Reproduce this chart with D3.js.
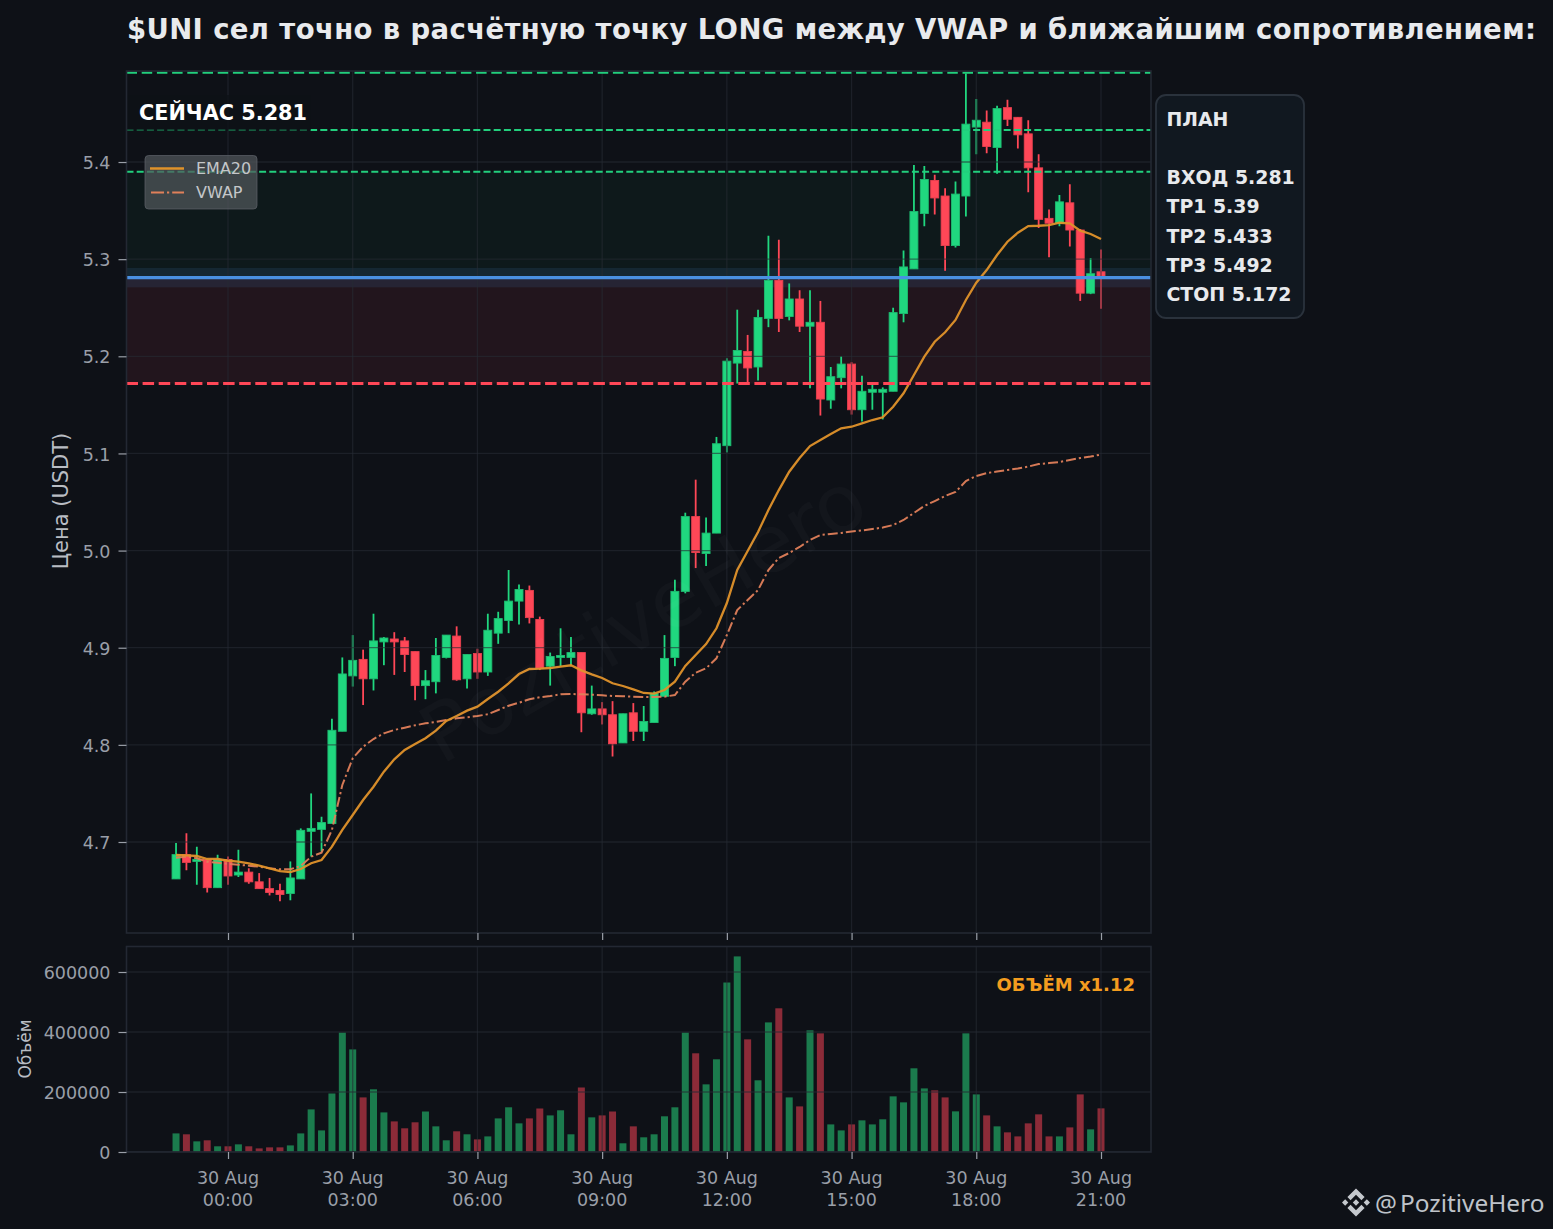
<!DOCTYPE html>
<html><head><meta charset="utf-8">
<script src="https://cdn.jsdelivr.net/npm/d3@7"></script>
<style>
html,body{margin:0;padding:0;background:#0e1117}
svg{display:block;font-family:"DejaVu Sans",sans-serif}
</style></head><body><svg id="c" width="1553" height="1229"></svg>
<script>
const opens=[4.662,4.687,4.680,4.682,4.653,4.682,4.666,4.669,4.659,4.652,4.650,4.647,4.662,4.711,4.713,4.719,4.814,4.871,4.888,4.868,4.906,4.909,4.907,4.896,4.861,4.865,4.890,4.912,4.868,4.894,4.875,4.915,4.928,4.948,4.959,4.929,4.881,4.890,4.890,4.895,4.832,4.837,4.831,4.802,4.833,4.814,4.823,4.850,4.890,4.958,5.035,4.997,5.018,5.108,5.193,5.205,5.189,5.239,5.278,5.241,5.259,5.231,5.235,5.155,5.178,5.192,5.145,5.163,5.163,5.164,5.244,5.290,5.347,5.381,5.365,5.314,5.365,5.436,5.441,5.415,5.456,5.446,5.429,5.394,5.342,5.337,5.358,5.330,5.265,5.287];
const highs=[4.699,4.709,4.695,4.683,4.687,4.685,4.692,4.673,4.668,4.663,4.657,4.680,4.714,4.750,4.726,4.827,4.890,4.913,4.898,4.935,4.911,4.916,4.911,4.896,4.877,4.910,4.913,4.922,4.893,4.899,4.935,4.937,4.980,4.965,4.964,4.932,4.895,4.920,4.911,4.895,4.861,4.844,4.845,4.832,4.843,4.840,4.855,4.913,4.970,5.039,5.073,5.034,5.117,5.198,5.248,5.222,5.248,5.324,5.320,5.275,5.268,5.268,5.257,5.189,5.200,5.194,5.180,5.172,5.168,5.250,5.309,5.397,5.396,5.387,5.373,5.380,5.491,5.465,5.453,5.458,5.464,5.446,5.443,5.408,5.351,5.366,5.377,5.331,5.301,5.310];
const lows=[4.662,4.671,4.656,4.648,4.653,4.656,4.664,4.657,4.652,4.645,4.639,4.640,4.662,4.685,4.690,4.719,4.814,4.860,4.841,4.856,4.882,4.872,4.875,4.846,4.847,4.853,4.889,4.866,4.858,4.868,4.871,4.904,4.915,4.924,4.925,4.877,4.861,4.881,4.881,4.813,4.831,4.821,4.788,4.802,4.804,4.804,4.823,4.850,4.881,4.956,4.982,4.984,5.018,5.101,5.172,5.172,5.175,5.230,5.225,5.237,5.225,5.167,5.139,5.146,5.167,5.140,5.133,5.145,5.135,5.164,5.235,5.290,5.334,5.346,5.288,5.312,5.344,5.408,5.409,5.388,5.437,5.414,5.369,5.332,5.302,5.334,5.313,5.257,5.264,5.249];
const closes=[4.687,4.679,4.682,4.653,4.682,4.665,4.669,4.659,4.652,4.648,4.646,4.663,4.712,4.714,4.720,4.815,4.873,4.887,4.868,4.907,4.910,4.906,4.893,4.861,4.866,4.892,4.913,4.867,4.893,4.875,4.918,4.930,4.948,4.960,4.931,4.879,4.891,4.892,4.895,4.833,4.837,4.831,4.801,4.832,4.814,4.824,4.853,4.889,4.958,5.035,4.998,5.018,5.110,5.195,5.206,5.188,5.240,5.278,5.239,5.259,5.231,5.235,5.156,5.179,5.192,5.145,5.164,5.166,5.166,5.245,5.292,5.349,5.382,5.363,5.314,5.367,5.439,5.443,5.416,5.455,5.444,5.428,5.394,5.341,5.337,5.359,5.330,5.265,5.285,5.281];
const volumes=[62000,59000,35500,39000,19000,19000,25500,19000,12000,15500,15500,22000,62000,142000,72000,195000,398000,342000,182000,209000,132000,102000,79000,99000,135000,85500,39000,69000,59000,42000,52000,112000,149000,95500,112000,145000,122000,139000,59000,215000,115500,122000,135000,29000,85500,49000,59000,119000,149000,398000,329000,225500,309000,565000,652000,375500,239000,432000,479000,182000,152000,405500,395500,92000,72000,92000,105500,92000,109000,185500,165500,279000,212000,205500,182000,135500,395500,192000,122000,85500,65500,52000,95500,125500,52000,52000,82000,192000,75500,145500];
const ema20=[4.6866,4.6863,4.6856,4.6825,4.6825,4.6807,4.6797,4.6781,4.6756,4.6729,4.6701,4.6691,4.6722,4.6781,4.6815,4.6952,4.7124,4.7278,4.7432,4.7569,4.7724,4.7851,4.7947,4.8009,4.8068,4.8146,4.8246,4.8297,4.8352,4.8393,4.8472,4.8547,4.8634,4.8729,4.8781,4.8784,4.8791,4.8805,4.8819,4.8767,4.8726,4.8688,4.8634,4.8606,4.8572,4.8534,4.8527,4.8565,4.8650,4.8812,4.8925,4.9038,4.9200,4.9460,4.9800,4.9996,5.0191,5.0418,5.0623,5.0812,5.0953,5.1076,5.1138,5.1200,5.1259,5.1275,5.1310,5.1344,5.1372,5.1481,5.1619,5.1807,5.1996,5.2150,5.2247,5.2374,5.2580,5.2758,5.2888,5.3043,5.3180,5.3272,5.3341,5.3344,5.3351,5.3375,5.3369,5.3293,5.3259,5.3207];
const vwap=[4.6838,4.6849,4.6832,4.6797,4.6787,4.6774,4.6766,4.6756,4.6746,4.6729,4.6719,4.6719,4.6753,4.6849,4.6890,4.7124,4.7587,4.7862,4.7981,4.8060,4.8119,4.8153,4.8177,4.8201,4.8222,4.8235,4.8256,4.8273,4.8284,4.8297,4.8315,4.8359,4.8403,4.8434,4.8469,4.8490,4.8503,4.8520,4.8524,4.8520,4.8516,4.8510,4.8503,4.8500,4.8496,4.8493,4.8493,4.8496,4.8513,4.8650,4.8743,4.8788,4.8891,4.9131,4.9388,4.9491,4.9594,4.9800,4.9924,4.9975,5.0037,5.0109,5.0160,5.0171,5.0181,5.0196,5.0207,5.0222,5.0237,5.0263,5.0315,5.0387,5.0459,5.0510,5.0562,5.0603,5.0716,5.0768,5.0798,5.0814,5.0829,5.0845,5.0865,5.0891,5.0901,5.0912,5.0932,5.0953,5.0968,5.0989];
const priceTicks=[4.7,4.8,4.9,5.0,5.1,5.2,5.3,5.4];
const volumeTicks=[0,200000,400000,600000];
const timeTickHours=[0,3,6,9,12,15,18,21];
const entry=5.281, targets=[5.39,5.433,5.492], stop=5.172, entryBand=0.01;
const planLines=["ПЛАН","","ВХОД 5.281","TP1 5.39","TP2 5.433","TP3 5.492","СТОП 5.172"];
const titleText="$UNI сел точно в расчётную точку LONG между VWAP и ближайшим сопротивлением:";

const C={bg:"#0e1117",grid:"#262b34",spine:"#232833",tick:"#9a9fa8",up:"#20d77f",upEdge:"#1dbb70",dn:"#ff4757",dnEdge:"#e8404f",volUp:"#1b7b4d",volDn:"#8b2b38",ema:"#e0922a",vwap:"#e0805a",txt:"#e8eaed"};
const svg=d3.select("#c");
svg.append("rect").attr("width",1553).attr("height",1229).attr("fill",C.bg);

const L=126.5,R=1151,T=71,B=933,VT=946.5,VB=1152;
const h0=Date.UTC(2025,7,30,0,0);
const HOUR=3600000;
const times=opens.map((_,i)=>new Date(h0+(i-5)*HOUR/4));
const pxPerHour=(1101-228)/21;
const x=d3.scaleUtc().domain([new Date(h0+(L-228)/pxPerHour*HOUR),new Date(h0+(R-228)/pxPerHour*HOUR)]).range([L,R]);
const y=d3.scaleLinear().domain([4.7+(842-B)/971.4,4.7+(842-T)/971.4]).range([B,T]);
const v=d3.scaleLinear().domain([0,(VB-VT)/0.0003]).range([VB,VT]);
const tickDates=timeTickHours.map(h=>new Date(h0+h*HOUR));

svg.append("defs").append("clipPath").attr("id","main").append("rect").attr("x",L).attr("y",T).attr("width",R-L).attr("height",B-T);
const main=svg.append("g").attr("clip-path","url(#main)");

// zones
function band(a,b,fill,op){main.append("rect").attr("x",L).attr("width",R-L).attr("y",y(b)).attr("height",y(a)-y(b)).attr("fill",fill).attr("fill-opacity",op);}
band(entry,targets[0],"#20d77f",0.045);
band(stop,entry,"#ff4757",0.085);
band(entry-entryBand,entry+entryBand,"#4a90e2",0.12);

// watermark
svg.append("text").attr("transform","translate(646,622) rotate(-30)").attr("text-anchor","middle").attr("dominant-baseline","middle")
  .attr("font-size",80).attr("fill","#ffffff").attr("fill-opacity",0.022).text("PozitiveHero");

// candles
const idx=d3.range(opens.length);
const w=8;
main.append("g").selectAll("line").data(idx).join("line")
  .attr("x1",i=>x(times[i])).attr("x2",i=>x(times[i])).attr("y1",i=>y(highs[i])).attr("y2",i=>y(lows[i]))
  .attr("stroke",i=>closes[i]>=opens[i]?C.up:C.dn).attr("stroke-width",1.8);
main.append("g").selectAll("rect").data(idx).join("rect")
  .attr("x",i=>x(times[i])-w/2).attr("width",w)
  .attr("y",i=>y(Math.max(opens[i],closes[i])))
  .attr("height",i=>Math.max(1.5,Math.abs(y(opens[i])-y(closes[i]))))
  .attr("fill",i=>closes[i]>=opens[i]?C.up:C.dn)
  .attr("stroke",i=>closes[i]>=opens[i]?C.upEdge:C.dnEdge).attr("stroke-width",0.9);

// grid above candles
const grid=main.append("g").attr("stroke",C.grid).attr("stroke-width",1.3).attr("stroke-opacity",0.6);
grid.selectAll(".gy").data(priceTicks).join("line").attr("x1",L).attr("x2",R).attr("y1",d=>y(d)).attr("y2",d=>y(d));
grid.selectAll(".gx").data(tickDates).join("line").attr("y1",T).attr("y2",B).attr("x1",d=>x(d)).attr("x2",d=>x(d));

// lines
const ln=a=>d3.line().x((_,i)=>x(times[i])).y(d=>y(d))(a);
main.append("path").attr("d",ln(vwap)).attr("fill","none").attr("stroke",C.vwap).attr("stroke-width",2).attr("stroke-dasharray","10,3,2.2,3").attr("opacity",.95);
main.append("path").attr("d",ln(ema20)).attr("fill","none").attr("stroke",C.ema).attr("stroke-width",2.3).attr("opacity",.95);

// levels
const lvl=[[targets[0],"7,3.2",2.1],[targets[1],"7,3.2",2.1],[targets[2],"10.5,4.7",2.4]];
main.append("g").selectAll("line").data(lvl).join("line").attr("x1",L).attr("x2",R).attr("y1",d=>y(d[0])).attr("y2",d=>y(d[0]))
  .attr("stroke","#22cf7d").attr("stroke-width",d=>d[2]).attr("stroke-dasharray",d=>d[1]);
main.append("line").attr("x1",L).attr("x2",R).attr("y1",y(stop)).attr("y2",y(stop)).attr("stroke","#ff4757").attr("stroke-width",2.8).attr("stroke-dasharray","11.5,4.6");
main.append("line").attr("x1",L).attr("x2",R).attr("y1",y(entry)).attr("y2",y(entry)).attr("stroke","#4a90e2").attr("stroke-width",3.2);

// now label
svg.append("rect").attr("x",127).attr("y",95).attr("width",184).attr("height",35.8).attr("fill",C.bg).attr("fill-opacity",.75);
svg.append("text").attr("x",139).attr("y",120).attr("font-size",20.8).attr("font-weight",700).attr("fill","#ffffff").text("СЕЙЧАС 5.281");

// legend
const lg=svg.append("g");
lg.append("rect").attr("x",145).attr("y",155.5).attr("width",112).attr("height",53.5).attr("rx",3.5).attr("fill","#52575c").attr("fill-opacity",.72).attr("stroke","#5e6369").attr("stroke-opacity",.7);
lg.append("line").attr("x1",150).attr("x2",184).attr("y1",168.5).attr("y2",168.5).attr("stroke",C.ema).attr("stroke-width",2.3);
lg.append("line").attr("x1",151).attr("x2",184).attr("y1",192.5).attr("y2",192.5).attr("stroke",C.vwap).attr("stroke-width",2).attr("stroke-dasharray","13,3,2.2,3");
lg.append("text").attr("x",196).attr("y",174).attr("font-size",16).attr("fill","#c4c6c9").text("EMA20");
lg.append("text").attr("x",196).attr("y",198).attr("font-size",16).attr("fill","#c4c6c9").text("VWAP");

// spines + axes main
svg.append("rect").attr("x",L).attr("y",T).attr("width",R-L).attr("height",B-T).attr("fill","none").attr("stroke",C.spine).attr("stroke-width",1.6);
const ya=d3.axisLeft(y).tickValues(priceTicks).tickFormat(d3.format(".1f")).tickSize(8).tickPadding(8);
const ga=svg.append("g").attr("transform",`translate(${L},0)`).call(ya);
ga.select(".domain").remove();
ga.selectAll("line").attr("stroke",C.tick).attr("stroke-width",1.2);
ga.selectAll("text").attr("fill",C.tick).attr("font-size",17.5).attr("font-family","DejaVu Sans").attr("dy","0.38em");
const xa=d3.axisBottom(x).tickValues(tickDates).tickFormat("").tickSize(7);
const gx1=svg.append("g").attr("transform",`translate(0,${B})`).call(xa);
gx1.select(".domain").remove();
gx1.selectAll("line").attr("stroke",C.tick).attr("stroke-width",1.2);

// volume
svg.append("defs").append("clipPath").attr("id","vol").append("rect").attr("x",L).attr("y",VT).attr("width",R-L).attr("height",VB-VT);
const vg=svg.append("g").attr("clip-path","url(#vol)");
const vw=7;
vg.append("g").selectAll("rect").data(idx).join("rect")
  .attr("x",i=>x(times[i])-vw/2).attr("width",vw).attr("y",i=>v(volumes[i])).attr("height",i=>v(0)-v(volumes[i]))
  .attr("fill",i=>closes[i]>=opens[i]?C.volUp:C.volDn);
const vgrid=vg.append("g").attr("stroke",C.grid).attr("stroke-width",1.3).attr("stroke-opacity",0.6);
vgrid.selectAll(".gy").data(volumeTicks).join("line").attr("x1",L).attr("x2",R).attr("y1",d=>v(d)).attr("y2",d=>v(d));
vgrid.selectAll(".gx").data(tickDates).join("line").attr("y1",VT).attr("y2",VB).attr("x1",d=>x(d)).attr("x2",d=>x(d));
svg.append("rect").attr("x",L).attr("y",VT).attr("width",R-L).attr("height",VB-VT).attr("fill","none").attr("stroke",C.spine).attr("stroke-width",1.6);
const va=d3.axisLeft(v).tickValues(volumeTicks).tickFormat(d3.format("d")).tickSize(8).tickPadding(8);
const gv=svg.append("g").attr("transform",`translate(${L},0)`).call(va);
gv.select(".domain").remove();
gv.selectAll("line").attr("stroke",C.tick).attr("stroke-width",1.2);
gv.selectAll("text").attr("fill",C.tick).attr("font-size",17.5).attr("font-family","DejaVu Sans").attr("dy","0.38em");
const fd=d3.utcFormat("%d %b"),ft=d3.utcFormat("%H:%M");
const xb=d3.axisBottom(x).tickValues(tickDates).tickFormat("").tickSize(7);
const gx2=svg.append("g").attr("transform",`translate(0,${VB})`).call(xb);
gx2.select(".domain").remove();
gx2.selectAll("line").attr("stroke",C.tick).attr("stroke-width",1.2);
const lab=svg.append("g").attr("fill",C.tick).attr("font-size",17.5).attr("text-anchor","middle");
lab.selectAll(".a").data(tickDates).join("text").attr("x",d=>x(d)).attr("y",1184).text(d=>fd(d));
lab.selectAll(".b").data(tickDates).join("text").attr("x",d=>x(d)).attr("y",1206).text(d=>ft(d));
svg.append("text").attr("x",1135).attr("y",991).attr("text-anchor","end").attr("font-size",18).attr("font-weight",700).attr("fill","#f39c1f").text("ОБЪЁМ x1.12");

// axis titles
svg.append("text").attr("transform","translate(68,501) rotate(-90)").attr("text-anchor","middle").attr("font-size",21).attr("fill","#b9bdc4").text("Цена (USDT)");
svg.append("text").attr("transform","translate(31,1049) rotate(-90)").attr("text-anchor","middle").attr("font-size",17).attr("fill","#b9bdc4").text("Объём");

// title
svg.append("text").attr("x",127).attr("y",38.5).attr("font-size",27.5).attr("font-weight",700).attr("fill",C.txt)
  .attr("textLength",1409).attr("lengthAdjust","spacing").text(titleText);

// plan box
svg.append("rect").attr("x",1156).attr("y",95).attr("width",148).attr("height",223).attr("rx",10).attr("fill","#111820").attr("stroke","#2a323c").attr("stroke-width",1.8);
svg.append("g").selectAll("text").data(planLines).join("text").attr("x",1166.5).attr("y",(d,i)=>125.7+i*29.2)
  .attr("font-size",18.9).attr("font-weight",700).attr("fill",C.txt).text(d=>d);

// brand
const brand=svg.append("g").attr("transform","translate(1356,1202.5) scale(0.221) translate(-63.3,-63.3)").attr("fill","#c4c8cd");
brand.append("path").attr("d","M38.73 53.2L63.3 28.64 87.9 53.21 102.2 38.92 63.3 0 24.42 38.9Z");
brand.append("path").attr("d","M38.73 73.4L63.3 97.97 87.9 73.4 102.2 87.69 63.3 126.61 24.42 87.71Z");
brand.append("path").attr("d","M0 63.3L14.29 49 28.58 63.3 14.29 77.6Z");
brand.append("path").attr("d","M98.03 63.3L112.32 49 126.61 63.3 112.32 77.6Z");
brand.append("path").attr("d","M63.3 49L77.6 63.3 63.3 77.6 49 63.3Z");
const bt=svg.append("g").attr("font-family","Noto Sans").attr("font-size",24.4).attr("fill","#bfc3c9").attr("y",1211.5);
bt.append("text").attr("x",1375).attr("y",1211.5).text("@");
bt.append("text").attr("x",1400).attr("y",1211.5).text("PozitiveHero");
</script></body></html>
